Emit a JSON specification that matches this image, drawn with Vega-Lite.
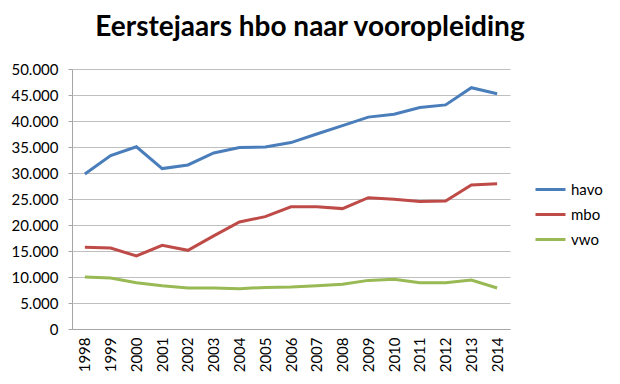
{
  "$schema": "https://vega.github.io/schema/vega-lite/v6.json",
  "autosize": "none",
  "padding": {"left": 72, "top": 69, "right": 110, "bottom": 55},
  "width": 438,
  "height": 260,
  "background": "white",
  "title": {
    "text": "Eerstejaars hbo naar vooropleiding",
    "font": "Lato",
    "fontSize": 28,
    "fontWeight": "bold",
    "color": "#000000",
    "anchor": "middle",
    "dx": 19,
    "offset": 20
  },
  "data": {
    "values": [
      {"jaar": "1998", "opleiding": "havo", "aantal": 29800},
      {"jaar": "1999", "opleiding": "havo", "aantal": 33350},
      {"jaar": "2000", "opleiding": "havo", "aantal": 35050},
      {"jaar": "2001", "opleiding": "havo", "aantal": 30850},
      {"jaar": "2002", "opleiding": "havo", "aantal": 31550},
      {"jaar": "2003", "opleiding": "havo", "aantal": 33850},
      {"jaar": "2004", "opleiding": "havo", "aantal": 34900},
      {"jaar": "2005", "opleiding": "havo", "aantal": 35000},
      {"jaar": "2006", "opleiding": "havo", "aantal": 35850},
      {"jaar": "2007", "opleiding": "havo", "aantal": 37500},
      {"jaar": "2008", "opleiding": "havo", "aantal": 39100},
      {"jaar": "2009", "opleiding": "havo", "aantal": 40750},
      {"jaar": "2010", "opleiding": "havo", "aantal": 41300},
      {"jaar": "2011", "opleiding": "havo", "aantal": 42600},
      {"jaar": "2012", "opleiding": "havo", "aantal": 43100},
      {"jaar": "2013", "opleiding": "havo", "aantal": 46400},
      {"jaar": "2014", "opleiding": "havo", "aantal": 45250},
      {"jaar": "1998", "opleiding": "mbo", "aantal": 15700},
      {"jaar": "1999", "opleiding": "mbo", "aantal": 15580},
      {"jaar": "2000", "opleiding": "mbo", "aantal": 14050},
      {"jaar": "2001", "opleiding": "mbo", "aantal": 16100},
      {"jaar": "2002", "opleiding": "mbo", "aantal": 15130},
      {"jaar": "2003", "opleiding": "mbo", "aantal": 17900},
      {"jaar": "2004", "opleiding": "mbo", "aantal": 20580},
      {"jaar": "2005", "opleiding": "mbo", "aantal": 21600},
      {"jaar": "2006", "opleiding": "mbo", "aantal": 23500},
      {"jaar": "2007", "opleiding": "mbo", "aantal": 23500},
      {"jaar": "2008", "opleiding": "mbo", "aantal": 23150},
      {"jaar": "2009", "opleiding": "mbo", "aantal": 25250},
      {"jaar": "2010", "opleiding": "mbo", "aantal": 24950},
      {"jaar": "2011", "opleiding": "mbo", "aantal": 24500},
      {"jaar": "2012", "opleiding": "mbo", "aantal": 24600},
      {"jaar": "2013", "opleiding": "mbo", "aantal": 27700},
      {"jaar": "2014", "opleiding": "mbo", "aantal": 27950},
      {"jaar": "1998", "opleiding": "vwo", "aantal": 10000},
      {"jaar": "1999", "opleiding": "vwo", "aantal": 9800},
      {"jaar": "2000", "opleiding": "vwo", "aantal": 8900},
      {"jaar": "2001", "opleiding": "vwo", "aantal": 8330},
      {"jaar": "2002", "opleiding": "vwo", "aantal": 7880},
      {"jaar": "2003", "opleiding": "vwo", "aantal": 7880},
      {"jaar": "2004", "opleiding": "vwo", "aantal": 7750},
      {"jaar": "2005", "opleiding": "vwo", "aantal": 8000},
      {"jaar": "2006", "opleiding": "vwo", "aantal": 8080},
      {"jaar": "2007", "opleiding": "vwo", "aantal": 8330},
      {"jaar": "2008", "opleiding": "vwo", "aantal": 8600},
      {"jaar": "2009", "opleiding": "vwo", "aantal": 9350},
      {"jaar": "2010", "opleiding": "vwo", "aantal": 9550},
      {"jaar": "2011", "opleiding": "vwo", "aantal": 8900},
      {"jaar": "2012", "opleiding": "vwo", "aantal": 8900},
      {"jaar": "2013", "opleiding": "vwo", "aantal": 9400},
      {"jaar": "2014", "opleiding": "vwo", "aantal": 7880}
    ]
  },
  "mark": {"type": "line", "strokeWidth": 3},
  "encoding": {
    "x": {
      "field": "jaar",
      "type": "ordinal",
      "scale": {"type": "point", "padding": 0.5},
      "axis": {
        "title": null,
        "labelAngle": -90,
        "labelFont": "Lato",
        "labelFontSize": 15,
        "labelColor": "#000000",
        "labelPadding": 8,
        "ticks": false,
        "domainColor": "#a6a6a6",
        "grid": false
      }
    },
    "y": {
      "field": "aantal",
      "type": "quantitative",
      "scale": {"domain": [0, 50000], "nice": false},
      "axis": {
        "title": null,
        "values": [0, 5000, 10000, 15000, 20000, 25000, 30000, 35000, 40000, 45000, 50000],
        "labelExpr": "replace(format(datum.value, ','), ',', '.')",
        "labelFont": "Lato",
        "labelFontSize": 15,
        "labelColor": "#000000",
        "labelPadding": 10,
        "tickSize": 4,
        "tickColor": "#a6a6a6",
        "domainColor": "#a6a6a6",
        "grid": true,
        "gridColor": "#bfbfbf",
        "gridWidth": 1
      }
    },
    "color": {
      "field": "opleiding",
      "type": "nominal",
      "scale": {"domain": ["havo", "mbo", "vwo"], "range": ["#4a7ebb", "#be4b48", "#98b954"]},
      "legend": {
        "title": null,
        "orient": "none",
        "legendX": 462,
        "legendY": 104,
        "symbolType": "stroke",
        "symbolSize": 900,
        "symbolStrokeWidth": 3,
        "labelFont": "Lato",
        "labelFontSize": 15,
        "labelColor": "#000000",
        "labelOffset": 4,
        "rowPadding": 0
      }
    }
  },
  "config": {"view": {"stroke": null}}
}
